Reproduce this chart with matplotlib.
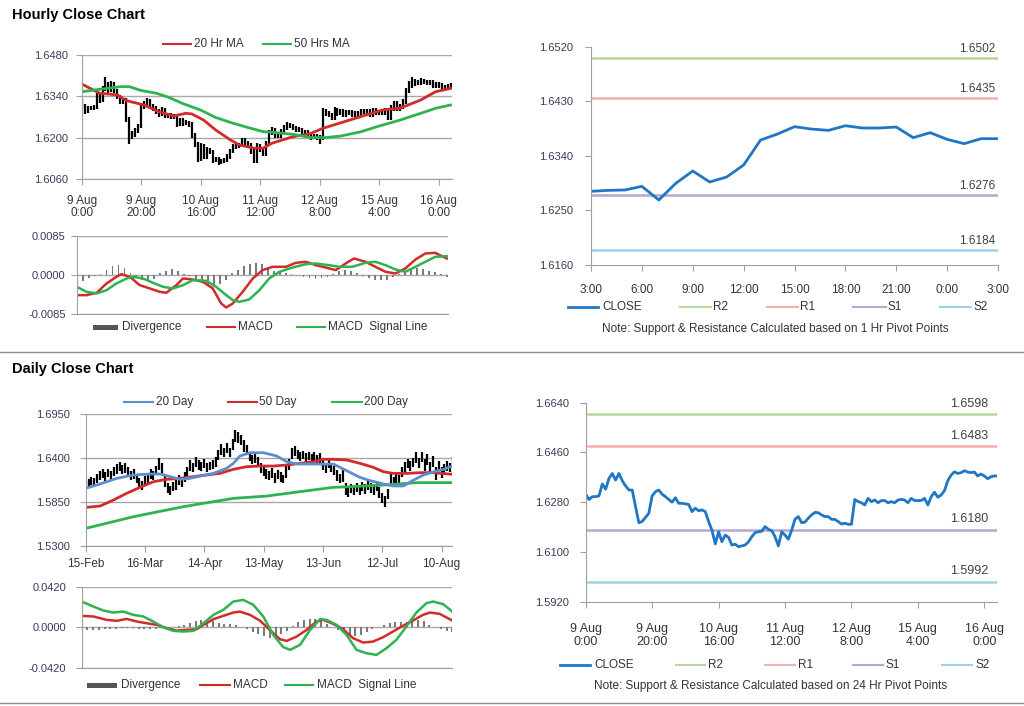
import numpy as np
import matplotlib
matplotlib.use('Agg')
import matplotlib.pyplot as plt
from matplotlib.lines import Line2D
from matplotlib.patches import Rectangle

plt.rcParams['font.family'] = ['Liberation Sans', 'DejaVu Sans']

# ---------------- hourly data (9 Aug 0:00 .. 16 Aug ~4:00, one value per hour)
hr_close = [1.6309, 1.6290, 1.6300, 1.6300, 1.6303, 1.6346, 1.6327, 1.6366, 1.6384, 1.6360,
            1.6384, 1.6358, 1.6339, 1.6324, 1.6324, 1.6264, 1.6206, 1.6210, 1.6225, 1.6240,
            1.6303, 1.6318, 1.6324, 1.6309, 1.6300, 1.6290, 1.6280, 1.6296, 1.6276, 1.6276,
            1.6274, 1.6272, 1.6246, 1.6258, 1.6249, 1.6252, 1.6246, 1.6210, 1.6179, 1.6129,
            1.6173, 1.6137, 1.6161, 1.6153, 1.6125, 1.6128, 1.6119, 1.6122, 1.6125, 1.6137,
            1.6155, 1.6170, 1.6173, 1.6175, 1.6192, 1.6182, 1.6177, 1.6155, 1.6122, 1.6173,
            1.6161, 1.6146, 1.6179, 1.6218, 1.6228, 1.6206, 1.6208, 1.6222, 1.6234, 1.6243,
            1.6242, 1.6234, 1.6228, 1.6228, 1.6218, 1.6218, 1.6210, 1.6201, 1.6204, 1.6200,
            1.6200, 1.6290, 1.6282, 1.6278, 1.6270, 1.6294, 1.6282, 1.6288, 1.6278, 1.6286,
            1.6286, 1.6278, 1.6282, 1.6278, 1.6288, 1.6290, 1.6288, 1.6278, 1.6294, 1.6286,
            1.6286, 1.6286, 1.6294, 1.6270, 1.6300, 1.6316, 1.6298, 1.6306, 1.6322, 1.6358,
            1.6378, 1.6390, 1.6384, 1.6387, 1.6394, 1.6389, 1.6387, 1.6389, 1.6375, 1.6382,
            1.6375, 1.6365, 1.6372, 1.6375, 1.6375]

hr_low = [1.6298, 1.6282, 1.6284, 1.6293, 1.6294, 1.6297, 1.6318, 1.6320, 1.6358, 1.6352,
          1.6354, 1.6350, 1.6331, 1.6316, 1.6315, 1.6255, 1.6178, 1.6195, 1.6202, 1.6218,
          1.6232, 1.6296, 1.6310, 1.6302, 1.6292, 1.6282, 1.6272, 1.6273, 1.6268, 1.6266,
          1.6264, 1.6263, 1.6238, 1.6240, 1.6240, 1.6242, 1.6238, 1.6200, 1.6170, 1.6120,
          1.6122, 1.6128, 1.6130, 1.6144, 1.6116, 1.6118, 1.6110, 1.6112, 1.6115, 1.6120,
          1.6130, 1.6148, 1.6162, 1.6165, 1.6168, 1.6174, 1.6168, 1.6146, 1.6114, 1.6116,
          1.6152, 1.6138, 1.6140, 1.6172, 1.6210, 1.6198, 1.6200, 1.6200, 1.6215, 1.6226,
          1.6234, 1.6226, 1.6220, 1.6220, 1.6210, 1.6210, 1.6202, 1.6193, 1.6195, 1.6192,
          1.6180, 1.6192, 1.6274, 1.6270, 1.6262, 1.6262, 1.6274, 1.6278, 1.6270, 1.6272,
          1.6278, 1.6270, 1.6272, 1.6270, 1.6270, 1.6282, 1.6280, 1.6270, 1.6270, 1.6278,
          1.6278, 1.6278, 1.6278, 1.6262, 1.6262, 1.6292, 1.6290, 1.6290, 1.6298, 1.6314,
          1.6350, 1.6370, 1.6376, 1.6378, 1.6380, 1.6382, 1.6380, 1.6380, 1.6368, 1.6370,
          1.6368, 1.6358, 1.6362, 1.6366, 1.6366]

hr_high = [1.6330, 1.6316, 1.6307, 1.6308, 1.6310, 1.6355, 1.6352, 1.6375, 1.6405, 1.6390,
           1.6392, 1.6390, 1.6364, 1.6345, 1.6332, 1.6334, 1.6270, 1.6222, 1.6232, 1.6248,
           1.6312, 1.6326, 1.6334, 1.6330, 1.6316, 1.6306, 1.6298, 1.6304, 1.6302, 1.6285,
           1.6284, 1.6282, 1.6280, 1.6266, 1.6266, 1.6260, 1.6258, 1.6254, 1.6218, 1.6186,
           1.6182, 1.6180, 1.6168, 1.6166, 1.6160, 1.6136, 1.6134, 1.6130, 1.6132, 1.6145,
           1.6164, 1.6180, 1.6184, 1.6184, 1.6200, 1.6198, 1.6190, 1.6184, 1.6162, 1.6182,
           1.6180, 1.6168, 1.6188, 1.6228, 1.6236, 1.6234, 1.6216, 1.6230, 1.6242, 1.6252,
           1.6250, 1.6248, 1.6240, 1.6236, 1.6235, 1.6226, 1.6226, 1.6218, 1.6212, 1.6212,
           1.6208, 1.6300, 1.6298, 1.6290, 1.6285, 1.6305, 1.6302, 1.6296, 1.6296, 1.6294,
           1.6294, 1.6294, 1.6290, 1.6290, 1.6296, 1.6298, 1.6298, 1.6296, 1.6302, 1.6302,
           1.6294, 1.6294, 1.6302, 1.6302, 1.6310, 1.6326, 1.6324, 1.6316, 1.6332, 1.6368,
           1.6392, 1.6405, 1.6398, 1.6396, 1.6402, 1.6400, 1.6396, 1.6396, 1.6394, 1.6390,
           1.6390, 1.6384, 1.6380, 1.6382, 1.6384]

ma20_h = [0, 6, 12, 15, 21, 26, 31, 35, 37, 41, 45, 50, 53, 58, 61, 64, 71, 77, 81, 90,
          101, 107, 114, 119, 124]
ma20_v = [1.6382, 1.6351, 1.6345, 1.6326, 1.6311, 1.6288, 1.6274, 1.6283, 1.6281, 1.6260,
          1.6227, 1.6193, 1.6176, 1.6165, 1.6165, 1.6182, 1.6204, 1.6215, 1.6232, 1.6260,
          1.6294, 1.6300, 1.6328, 1.6356, 1.6367]
ma50_h = [0, 6, 13, 16, 20, 25, 29, 34, 40, 45, 51, 57, 61, 66, 71, 77, 82, 87, 94, 100,
          107, 114, 119, 124]
ma50_v = [1.6356, 1.6364, 1.6373, 1.6373, 1.6360, 1.6351, 1.6338, 1.6316, 1.6294, 1.6269,
          1.6249, 1.6232, 1.6221, 1.6217, 1.6212, 1.6201, 1.6201, 1.6206, 1.6221, 1.6240,
          1.6260, 1.6283, 1.6300, 1.6311]

macd_h = [0, 3.3, 6.7, 10.0, 13.3, 15.0, 17.8, 21.1, 24.5, 27.8, 30.0, 33.4, 35.6, 38.9,
          42.3, 45.6, 48.4, 50.1, 52.3, 55.6, 59.0, 62.3, 65.6, 70.1, 73.4, 76.8, 80.1,
          83.4, 86.8, 90.1, 92.9, 96.8, 100.1, 103.5, 106.8, 110.1, 113.5, 116.8, 120.1, 124.0]
macd_hv = [-0.00434, -0.00434, -0.00383, -0.00181, -0.00036, 0.00022, -0.00036, -0.00217,
           -0.00289, -0.00362, -0.00383, -0.00217, -0.00072, -0.00094, -0.00145, -0.00289,
           -0.00615, -0.00702, -0.00615, -0.00362, -0.00072, 0.00109, 0.00181, 0.00181,
           0.00268, 0.00289, 0.00217, 0.00166, 0.00109, 0.00253, 0.00362, 0.00289, 0.00181,
           0.00072, 0.00036, 0.00145, 0.00340, 0.00470, 0.00485, 0.00362]
sig_h = [0, 3.3, 6.7, 10.0, 13.3, 16.7, 18.9, 22.2, 25.6, 28.9, 32.3, 35.6, 38.9, 43.4,
         46.7, 50.1, 52.3, 54.5, 57.8, 61.2, 64.5, 67.9, 72.3, 76.8, 80.1, 84.5, 87.9,
         92.3, 96.8, 100.1, 103.5, 106.8, 110.1, 113.5, 116.8, 120.1, 124]
sig_hv = [-0.00253, -0.00362, -0.00398, -0.00326, -0.00181, -0.00072, -0.00036, -0.00072,
          -0.00166, -0.00253, -0.00289, -0.00217, -0.00109, -0.00123, -0.00253, -0.00434,
          -0.00543, -0.00579, -0.00528, -0.00326, -0.00072, 0.00072, 0.00166, 0.00239,
          0.00253, 0.00217, 0.00181, 0.00181, 0.00268, 0.00289, 0.00217, 0.00123, 0.00072,
          0.00181, 0.00289, 0.00398, 0.00412]
div_hv = [-0.0016, -0.0012, -0.0006, -0.0002, 0.0003, 0.0012, 0.0019, 0.0021, 0.0016, 0.0004,
          -0.0006, -0.0010, -0.0012, -0.0008, 0.0004, 0.0010, 0.0013, 0.0008, 0.0002, -0.0002,
          -0.0010, -0.0016, -0.0022, -0.0025, -0.0020, -0.0010, 0.0004, 0.0012, 0.0020, 0.0025,
          0.0026, 0.0024, 0.0016, 0.0008, 0.0006, 0.0005, 0.0003, 0.0001, -0.0003, -0.0006,
          -0.0008, -0.0006, -0.0003, 0.0002, 0.0008, 0.0012, 0.0010, 0.0004, -0.0002, -0.0007,
          -0.0010, -0.0011, -0.0010, -0.0005, 0.0002, 0.0008, 0.0014, 0.0016, 0.0013, 0.0010,
          0.0006, 0.0002, -0.0004]

hr_ticks = [0, 20, 40, 60, 80, 100, 120]
hr_labels = ['9 Aug\n0:00', '9 Aug\n20:00', '10 Aug\n16:00', '11 Aug\n12:00',
             '12 Aug\n8:00', '15 Aug\n4:00', '16 Aug\n0:00']

# ---------------- last 24 hours
day24_close = [1.62815, 1.62831, 1.62837, 1.62897, 1.62672, 1.62947, 1.63150, 1.62969,
               1.63051, 1.63249, 1.63661, 1.63760, 1.63881, 1.63842, 1.63820, 1.63897,
               1.63859, 1.63859, 1.63875, 1.63700, 1.63782, 1.63672, 1.63601, 1.63683,
               1.63683]
h24_labels = ['3:00', '6:00', '9:00', '12:00', '15:00', '18:00', '21:00', '0:00', '3:00']
piv_1h = {'R2': 1.6502, 'R1': 1.6435, 'S1': 1.6276, 'S2': 1.6184}
piv_24h = {'R2': 1.6598, 'R1': 1.6483, 'S1': 1.6180, 'S2': 1.5992}

# ---------------- daily data (15-Feb .. mid Aug, trading days)
day_hi = [1.6110, 1.6140, 1.6160, 1.6150, 1.6195, 1.6235, 1.6260, 1.6225, 1.6265, 1.6240,
          1.6290, 1.6320, 1.6350, 1.6310, 1.6330, 1.6280, 1.6240, 1.6255, 1.6200, 1.6150,
          1.6115, 1.6170, 1.6210, 1.6260, 1.6235, 1.6300, 1.6395, 1.6340, 1.6190, 1.6080,
          1.6050, 1.6100, 1.6120, 1.6180, 1.6150, 1.6220, 1.6290, 1.6370, 1.6340, 1.6410,
          1.6370, 1.6350, 1.6390, 1.6340, 1.6350, 1.6370, 1.6410, 1.6500, 1.6570, 1.6530,
          1.6590, 1.6530, 1.6640, 1.6750, 1.6720, 1.6690, 1.6620, 1.6560, 1.6480, 1.6440,
          1.6460, 1.6410, 1.6330, 1.6290, 1.6260, 1.6240, 1.6270, 1.6210, 1.6250, 1.6220,
          1.6180, 1.6320, 1.6380, 1.6520, 1.6550, 1.6500, 1.6480, 1.6490, 1.6460, 1.6480,
          1.6450, 1.6475, 1.6440, 1.6460, 1.6375, 1.6330, 1.6380, 1.6340, 1.6300, 1.6250,
          1.6200, 1.6260, 1.6080, 1.6020, 1.6070, 1.6050, 1.6080, 1.6040, 1.6100, 1.6070,
          1.6120, 1.6080, 1.6060, 1.6110, 1.6030, 1.5960, 1.5920, 1.6010, 1.6200, 1.6160,
          1.6200, 1.6180, 1.6280, 1.6350, 1.6390, 1.6360, 1.6400, 1.6470, 1.6400, 1.6480,
          1.6380, 1.6450, 1.6350, 1.6420, 1.6280, 1.6360, 1.6290, 1.6320, 1.6360, 1.6340,
          1.6420]
day_lo = [1.6015, 1.6030, 1.6055, 1.6040, 1.6080, 1.6125, 1.6150, 1.6115, 1.6160, 1.6130,
          1.6170, 1.6200, 1.6235, 1.6195, 1.6215, 1.6165, 1.6120, 1.6140, 1.6080, 1.6030,
          1.6000, 1.6050, 1.6090, 1.6140, 1.6120, 1.6180, 1.6250, 1.6200, 1.6040, 1.5960,
          1.5935, 1.5980, 1.6000, 1.6060, 1.6030, 1.6100, 1.6170, 1.6240, 1.6220, 1.6280,
          1.6250, 1.6230, 1.6270, 1.6225, 1.6250, 1.6265, 1.6290, 1.6370, 1.6440, 1.6410,
          1.6460, 1.6415, 1.6500, 1.6600, 1.6590, 1.6560, 1.6480, 1.6440, 1.6360, 1.6320,
          1.6340, 1.6290, 1.6210, 1.6170, 1.6140, 1.6120, 1.6150, 1.6090, 1.6130, 1.6100,
          1.6080, 1.6150, 1.6250, 1.6380, 1.6430, 1.6380, 1.6360, 1.6380, 1.6350, 1.6370,
          1.6340, 1.6360, 1.6330, 1.6340, 1.6250, 1.6210, 1.6270, 1.6220, 1.6180, 1.6110,
          1.6080, 1.6100, 1.5940, 1.5910, 1.5960, 1.5930, 1.5970, 1.5930, 1.5980, 1.5950,
          1.6000, 1.5960, 1.5940, 1.5990, 1.5900, 1.5840, 1.5790, 1.5880, 1.6050, 1.6040,
          1.6090, 1.6060, 1.6160, 1.6220, 1.6270, 1.6240, 1.6280, 1.6340, 1.6270, 1.6350,
          1.6240, 1.6310, 1.6200, 1.6280, 1.6120, 1.6230, 1.6150, 1.6200, 1.6240, 1.6220,
          1.6300]

ma20d_x = [0, 5.1, 11.0, 16.9, 22.8, 26.4, 29.9, 33.4, 36.9, 40.5, 45.2, 49.9, 52.3, 54.6,
           58.2, 62.9, 67.6, 71.2, 74.7, 81.8, 87.7, 92.4, 97.1, 100.7, 105.4, 109.0, 112.5,
           116.1, 119.6, 123.2, 126.7, 129.9]
ma20d_v = [1.6019, 1.6073, 1.6144, 1.6186, 1.6198, 1.6198, 1.6165, 1.6131, 1.6144, 1.6173,
           1.6206, 1.6269, 1.6332, 1.6424, 1.6465, 1.6465, 1.6424, 1.6353, 1.6323, 1.6323,
           1.6323, 1.6240, 1.6156, 1.6115, 1.6073, 1.6048, 1.6048, 1.6123, 1.6186, 1.6227,
           1.6257, 1.6298]
ma50d_x = [0, 5.1, 9.8, 14.5, 19.2, 24.0, 28.7, 33.4, 38.1, 42.8, 47.5, 52.3, 57.0, 61.7,
           66.4, 71.2, 75.9, 80.6, 84.1, 87.7, 92.4, 97.1, 101.8, 105.4, 108.9, 113.7, 118.4,
           123.1, 129.9]
ma50d_v = [1.5780, 1.5797, 1.5872, 1.5956, 1.6031, 1.6102, 1.6131, 1.6144, 1.6165, 1.6186,
           1.6206, 1.6257, 1.6290, 1.6298, 1.6298, 1.6311, 1.6332, 1.6353, 1.6382, 1.6382,
           1.6374, 1.6332, 1.6282, 1.6227, 1.6206, 1.6206, 1.6215, 1.6215, 1.6194]
ma200d_x = [0, 16.9, 34.6, 52.3, 64.1, 75.9, 87.7, 93.6, 105.4, 117.2, 129.9]
ma200d_v = [1.5517, 1.5663, 1.5789, 1.5893, 1.5922, 1.5977, 1.6031, 1.6039, 1.6060, 1.6090,
            1.6090]

macd_dx = [0, 4.1, 8.8, 12.3, 15.8, 19.3, 22.8, 26.3, 29.8, 33.3, 36.8, 40.3, 42.7, 46.2,
           49.7, 53.2, 55.5, 59.0, 62.5, 66.0, 69.5, 71.9, 75.4, 78.9, 82.4, 84.7, 88.2, 91.7,
           95.2, 98.7, 102.2, 105.7, 109.2, 112.7, 116.2, 119.7, 122.1, 125.6, 130]
macd_dv = [0.0118, 0.0111, 0.0076, 0.0066, 0.0086, 0.0059, 0.0041, 0.0024, -0.0010, -0.0035,
           -0.0028, -0.0021, 0.0024, 0.0083, 0.0118, 0.0152, 0.0162, 0.0128, 0.0069, -0.0028,
           -0.0124, -0.0142, -0.0097, -0.0028, 0.0059, 0.0076, 0.0035, -0.0021, -0.0114,
           -0.0159, -0.0149, -0.0104, -0.0045, 0.0014, 0.0069, 0.0128, 0.0152, 0.0138, 0.0069]
sig_dx = [0, 4.1, 7.6, 11.1, 14.6, 18.1, 21.6, 25.1, 28.6, 32.1, 35.7, 39.2, 42.7, 46.2,
          49.7, 53.2, 56.7, 60.2, 63.7, 67.2, 70.7, 73.1, 76.6, 80.1, 83.6, 85.9, 89.4, 92.9,
          96.4, 99.9, 103.4, 106.9, 110.4, 113.9, 117.4, 120.9, 123.3, 126.8, 130]
sig_dv = [0.0266, 0.0214, 0.0173, 0.0152, 0.0162, 0.0128, 0.0111, 0.0059, 0.0000, -0.0038,
          -0.0045, -0.0038, 0.0041, 0.0128, 0.0180, 0.0266, 0.0283, 0.0232, 0.0111, -0.0080,
          -0.0207, -0.0235, -0.0183, -0.0028, 0.0083, 0.0076, 0.0024, -0.0080, -0.0235,
          -0.0270, -0.0287, -0.0218, -0.0131, 0.0007, 0.0152, 0.0249, 0.0266, 0.0239, 0.0162]
div_dv = [-0.0025, -0.0030, -0.0028, -0.0025, -0.0022, -0.0020, -0.0015, -0.0010, -0.0008, -0.0012,
          -0.0015, -0.0018, -0.0020, -0.0015, -0.0008, -0.0003, 0.0004, 0.0010, 0.0025, 0.0045,
          0.0060, 0.0070, 0.0072, 0.0060, 0.0045, 0.0035, 0.0030, 0.0020, 0.0005, -0.0020,
          -0.0045, -0.0070, -0.0095, -0.0110, -0.0100, -0.0070, -0.0035, 0.0010, 0.0050, 0.0075,
          0.0090, 0.0088, 0.0065, 0.0035, 0.0005, -0.0025, -0.0055, -0.0080, -0.0095, -0.0080,
          -0.0050, -0.0020, 0.0005, 0.0025, 0.0045, 0.0052, 0.0050, 0.0055, 0.0065, 0.0075,
          0.0060, 0.0025, 0.0000, -0.0020, -0.0035, -0.0045]

day_ticks = [0, 21, 42, 63, 84, 105, 126]
day_labels = ['15-Feb', '16-Mar', '14-Apr', '13-May', '13-Jun', '12-Jul', '10-Aug']

# ---------------- styles
RED = '#d22b2b'
GREEN = '#2db34f'
BLUE_MA = '#5b8fcf'
CLOSE_C = '#1f77c4'
PIV_C = {'R2': '#b8d79e', 'R1': '#f2b0b0', 'S1': '#b6a6d4', 'S2': '#9dd3e8'}
AXC = '#a0a0a0'
TXT = '#333333'
YTXT = '#3e3858'

W, H = 1024, 706
fig = plt.figure(figsize=(W / 100, H / 100), dpi=100)


def px_axes(l, t, r, b):
    return fig.add_axes([l / W, 1 - b / H, (r - l) / W, (b - t) / H])


def ftext(x, y, s, **kw):
    kw.setdefault('color', TXT)
    kw.setdefault('fontsize', 8.5)
    fig.text(x / W, 1 - y / H, s, va='center', **kw)


def fline(x0, x1, y, color, lw=1.5):
    fig.add_artist(Line2D([x0 / W, x1 / W], [1 - y / H, 1 - y / H],
                          transform=fig.transFigure, color=color, lw=lw))


def fpatch(x0, x1, y, color):
    fig.add_artist(Rectangle((x0 / W, 1 - (y + 2.5) / H), (x1 - x0) / W, 5 / H,
                             transform=fig.transFigure, color=color, lw=0))


def style(ax, grid=True, ypad=7, xpad=6):
    for s in ['top', 'right']:
        ax.spines[s].set_visible(False)
    for s in ['left', 'bottom']:
        ax.spines[s].set_color(AXC)
    ax.tick_params(axis='y', length=4, color=AXC, labelcolor=YTXT, labelsize=8, pad=ypad)
    ax.tick_params(axis='x', length=4, color=AXC, labelcolor=TXT, labelsize=8.5, pad=xpad)
    if grid:
        ax.yaxis.grid(True, color='#a8a8a8', lw=1)
        ax.set_axisbelow(True)


def fmt4(ax):
    ax.yaxis.set_major_formatter(matplotlib.ticker.FormatStrFormatter('%.4f'))


hours = np.arange(len(hr_close))
days = np.arange(len(day_hi))

# titles and separators
ftext(12, 15, 'Hourly Close Chart', fontsize=10.5, fontweight='bold', color='black')
ftext(12, 369, 'Daily Close Chart', fontsize=10.5, fontweight='bold', color='black')
fline(0, 1024, 352, '#8c8c8c', 1)
fline(0, 1024, 703, '#8c8c8c', 1)

# ---- A: hourly price
axA = px_axes(81.7, 55, 452, 179.3)
style(axA, ypad=6, xpad=7)
axA.vlines(hours, hr_low, hr_high, color='black', lw=1.6)
axA.plot(ma20_h, ma20_v, color=RED, lw=2)
axA.plot(ma50_h, ma50_v, color=GREEN, lw=2)
axA.set_xlim(0, 124.5)
axA.set_ylim(1.6060, 1.6480)
axA.set_yticks([1.6060, 1.6200, 1.6340, 1.6480])
fmt4(axA)
axA.set_xticks(hr_ticks)
axA.set_xticklabels(hr_labels, linespacing=1.05)
fline(163, 191, 44, RED)
ftext(194, 44, '20 Hr MA')
fline(263, 291, 44, GREEN)
ftext(294, 44, '50 Hrs MA')

# ---- B: hourly MACD
axB = px_axes(76.7, 236, 448.3, 314.3)
style(axB, ypad=4)
axB.bar(np.arange(0, 125, 2), div_hv, width=0.6, color='#7a7a7a')
axB.plot(macd_h, macd_hv, color=RED, lw=1.8)
axB.plot(sig_h, sig_hv, color=GREEN, lw=1.8)
axB.set_xlim(0, 124.5)
axB.set_ylim(-0.0085, 0.0085)
axB.set_yticks([-0.0085, 0.0, 0.0085])
fmt4(axB)
axB.set_xticks([])
fpatch(93, 118, 327, '#555555')
ftext(122, 327, 'Divergence')
fline(207, 235, 327, RED)
ftext(238, 327, 'MACD')
fline(297, 325, 327, GREEN)
ftext(328, 327, 'MACD  Signal Line')

# ---- C: last 24 hours with 1 hr pivots
axC = px_axes(591, 46.7, 998, 265)
style(axC, grid=False, ypad=9, xpad=10)
for k in ['R2', 'R1', 'S1', 'S2']:
    axC.axhline(piv_1h[k], color=PIV_C[k], lw=1.8)
    axC.annotate('%.4f' % piv_1h[k], xy=(24, piv_1h[k]), xytext=(-2, 6.5),
                 textcoords='offset points', ha='right', va='center',
                 fontsize=8.5, color='#404040')
axC.plot(np.arange(len(day24_close)), day24_close, color=CLOSE_C, lw=2)
axC.set_xlim(0, 24)
axC.set_ylim(1.6160, 1.6520)
axC.set_yticks([1.6160, 1.6250, 1.6340, 1.6430, 1.6520])
fmt4(axC)
axC.set_xticks(range(0, 25, 3))
axC.set_xticklabels(h24_labels)
fline(568, 598, 307, CLOSE_C, 2)
ftext(602, 307, 'CLOSE')
fline(680, 711, 307, PIV_C['R2'])
ftext(713, 307, 'R2')
fline(767, 798, 307, PIV_C['R1'])
ftext(800, 307, 'R1')
fline(853, 886, 307, PIV_C['S1'])
ftext(888, 307, 'S1')
fline(940, 971, 307, PIV_C['S2'])
ftext(973, 307, 'S2')
ftext(775, 329, 'Note: Support & Resistance Calculated based on 1 Hr Pivot Points', ha='center')

# ---- D: daily price
axD = px_axes(85.7, 414, 452.3, 545.7)
style(axD, ypad=7, xpad=5)
axD.vlines(days, day_lo, day_hi, color='black', lw=1.6)
axD.plot(ma200d_x, ma200d_v, color=GREEN, lw=2)
axD.plot(ma50d_x, ma50d_v, color=RED, lw=2)
axD.plot(ma20d_x, ma20d_v, color=BLUE_MA, lw=2)
axD.set_xlim(0, 129.8)
axD.set_ylim(1.5300, 1.6950)
axD.set_yticks([1.5300, 1.5850, 1.6400, 1.6950])
fmt4(axD)
axD.set_xticks(day_ticks)
axD.set_xticklabels(day_labels)
fline(124, 153, 402, BLUE_MA)
ftext(156, 402, '20 Day')
fline(228, 257, 402, RED)
ftext(259, 402, '50 Day')
fline(332, 362, 402, GREEN)
ftext(364, 402, '200 Day')

# ---- E: daily MACD
axE = px_axes(81.7, 586.7, 452.3, 667.7)
style(axE, ypad=7)
axE.bar(np.arange(0, 131, 2), div_dv, width=0.7, color='#7a7a7a')
axE.plot(macd_dx, macd_dv, color=RED, lw=1.8)
axE.plot(sig_dx, sig_dv, color=GREEN, lw=1.8)
axE.set_xlim(0, 130)
axE.set_ylim(-0.0420, 0.0420)
axE.set_yticks([-0.0420, 0.0, 0.0420])
fmt4(axE)
axE.set_xticks([])
fpatch(87, 117, 685, '#555555')
ftext(121, 685, 'Divergence')
fline(200, 230, 685, RED)
ftext(233, 685, 'MACD')
fline(285, 313, 685, GREEN)
ftext(317, 685, 'MACD  Signal Line')

# ---- F: hourly close with 24 hr pivots
axF = px_axes(585.7, 402.7, 997.3, 601.7)
style(axF, grid=False, ypad=8, xpad=11)
for k in ['R2', 'R1', 'S1', 'S2']:
    axF.axhline(piv_24h[k], color=PIV_C[k], lw=1.8)
    axF.annotate('%.4f' % piv_24h[k], xy=(123.9, piv_24h[k]), xytext=(-6.5, 7.5),
                 textcoords='offset points', ha='right', va='center',
                 fontsize=9, color='#404040')
axF.plot(hours, hr_close, color=CLOSE_C, lw=2)
axF.set_xlim(0, 123.9)
axF.set_ylim(1.5920, 1.6640)
axF.set_yticks([1.5920, 1.6100, 1.6280, 1.6460, 1.6640])
fmt4(axF)
axF.set_xticks(hr_ticks)
axF.set_xticklabels(hr_labels, fontsize=9)
fline(560, 590, 665, CLOSE_C, 2)
ftext(594, 665, 'CLOSE')
fline(676, 705, 665, PIV_C['R2'])
ftext(708, 665, 'R2')
fline(765, 795, 665, PIV_C['R1'])
ftext(798, 665, 'R1')
fline(853, 883, 665, PIV_C['S1'])
ftext(886, 665, 'S1')
fline(942, 972, 665, PIV_C['S2'])
ftext(975, 665, 'S2')
ftext(771, 686, 'Note: Support & Resistance Calculated based on 24 Hr Pivot Points', ha='center')

fig.savefig('out.png', dpi=100)
